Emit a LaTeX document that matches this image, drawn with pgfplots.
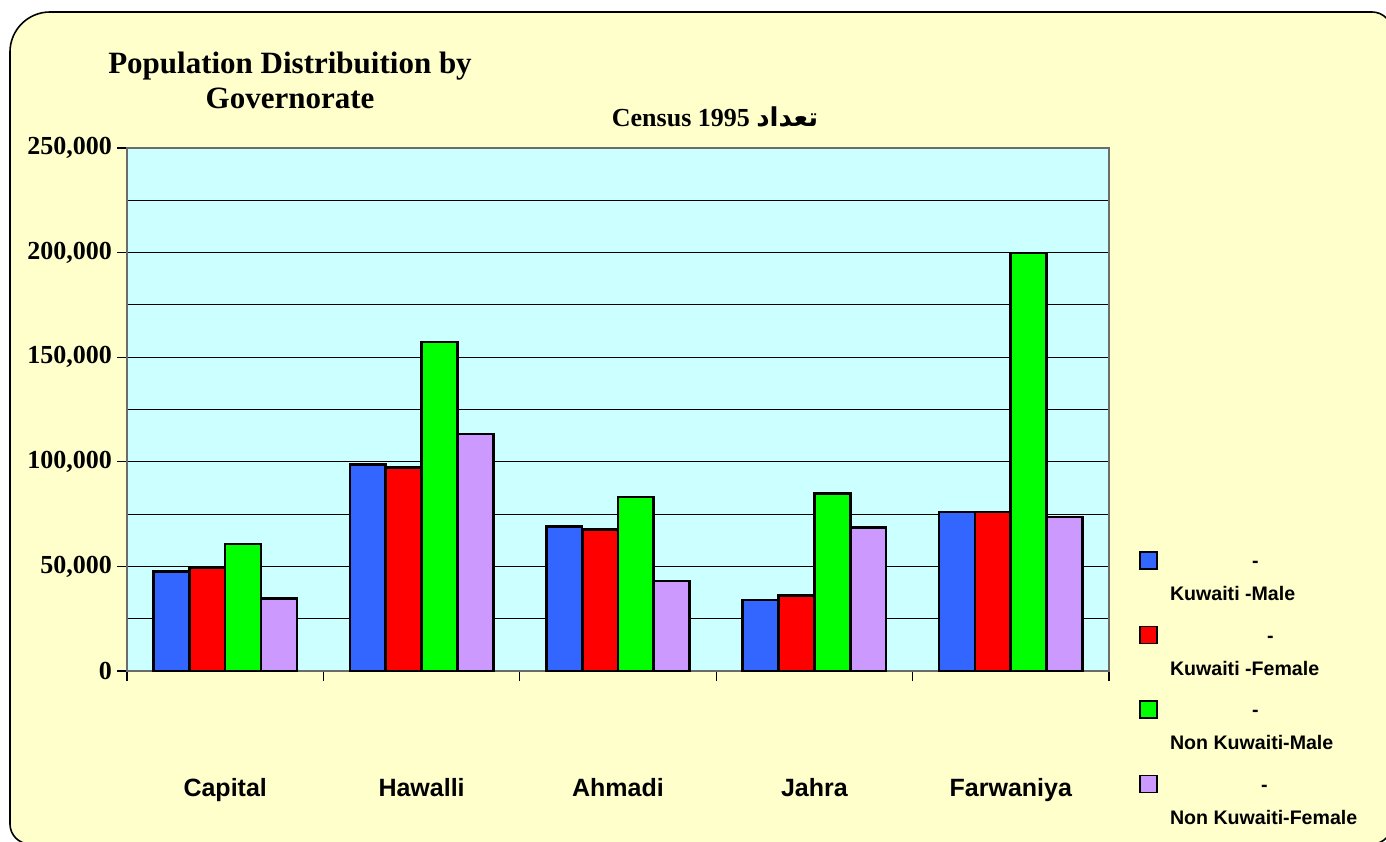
\documentclass[border=0pt]{standalone}
\usepackage{fontspec}
\setmainfont{Liberation Serif}
\newfontfamily\arial{Liberation Sans}
\newfontfamily\arabicfont[Script=Arabic]{DejaVu Sans}
\usepackage{pgfplots}
\pgfplotsset{compat=1.18}
\TeXXeTstate=1

\definecolor{kmale}{HTML}{3366FF}
\definecolor{kfemale}{HTML}{FF0000}
\definecolor{nmale}{HTML}{00FF00}
\definecolor{nfemale}{HTML}{CC99FF}
\definecolor{plotbg}{HTML}{CCFFFF}
\definecolor{framebg}{HTML}{FFFFCC}

% two-line legend text: a lone dash, then the name
\newcommand{\entry}[2]{\vbox{\baselineskip=16.5pt\hbox{\hspace*{#1}-}\hbox{#2}}}

\begin{document}
\begin{tikzpicture}
\useasboundingbox (0,0) rectangle (693pt,420.5pt);
\fill[white] (0,0) rectangle (693pt,420.5pt);
\draw[fill=framebg, line width=0.8pt] (100pt,-1.5pt) [rounded corners=10pt] -- (5pt,-1.5pt)
  [rounded corners=20pt] -- (5pt,414.5pt) [rounded corners=10pt] -- (696pt,414.5pt)
  -- (696pt,-1.5pt) -- cycle;

\node[align=center, font=\bfseries\fontsize{15.5}{17.5}\selectfont] at (145pt,380.5pt)
  {Population Distribuition by\\Governorate};
\node[font=\bfseries\fontsize{13}{15}\selectfont] at (357.5pt,362pt)
  {Census 1995 {\arabicfont\beginR تعداد\endR}};

\begin{axis}[
  at={(63.5pt,85pt)}, anchor=south west,
  scale only axis, width=491pt, height=261.5pt,
  xmin=-0.5, xmax=4.5, ymin=0, ymax=250000,
  axis background/.style={fill=plotbg},
  axis line style={draw=gray!85!black, line width=1pt},
  ytick={0,50000,...,250000},
  minor ytick={25000,75000,...,225000},
  ymajorgrids, yminorgrids,
  major grid style={black, line width=0.5pt},
  minor grid style={black, line width=0.5pt},
  tick align=outside, tick pos=left,
  tick style={black, line width=0.6pt},
  major tick length=5pt, minor tick length=0pt,
  xtick={-0.5,0.5,...,4.5}, xticklabels={,,,,,},
  extra x ticks={0,1,2,3,4},
  extra x tick labels={Capital,Hawalli,Ahmadi,Jahra,Farwaniya},
  extra x tick style={major tick length=0pt,
    xticklabel style={yshift=-50pt, font=\arial\bfseries\fontsize{12.5}{14}\selectfont}},
  scaled y ticks=false,
  yticklabel style={/pgf/number format/.cd, fixed, 1000 sep={,}, assume math mode=true,
    /tikz/.cd, font=\bfseries\fontsize{13}{15}\selectfont, xshift=1pt},
  ybar, bar width=0.1825,
  legend image code/.code={\draw[#1, /tikz/.cd, line width=0.8pt, draw=black] (0pt,6.75pt) rectangle (8.5pt,15.25pt);},
  legend style={at={(axis description cs:1,0)}, anchor=north west, xshift=15pt, yshift=60pt,
    draw=none, fill=none, inner sep=0pt, row sep=11pt,
    font=\arial\bfseries\fontsize{9.8}{12}\selectfont,
    nodes={inner sep=0pt},
    /tikz/every odd column/.style={column sep=6pt}},
  legend cell align=left,
]
\addplot[fill=kmale, draw=black, line width=1.3pt, bar shift=-0.274]
  coordinates {(0,47500) (1,98600) (2,69000) (3,33900) (4,76000)};
\addplot[fill=kfemale, draw=black, line width=1.3pt, bar shift=-0.091]
  coordinates {(0,49400) (1,97200) (2,67700) (3,36000) (4,76000)};
\addplot[fill=nmale, draw=black, line width=1.3pt, bar shift=0.091]
  coordinates {(0,60700) (1,157300) (2,83200) (3,84900) (4,199800)};
\addplot[fill=nfemale, draw=black, line width=1.3pt, bar shift=0.274]
  coordinates {(0,34700) (1,113300) (2,43000) (3,68700) (4,73600)};
\addlegendentry{\entry{41pt}{Kuwaiti -Male}}
\addlegendentry{\entry{48.5pt}{Kuwaiti -Female}}
\addlegendentry{\entry{41pt}{Non Kuwaiti-Male}}
\addlegendentry{\entry{45.5pt}{Non Kuwaiti-Female}}
\end{axis}
\end{tikzpicture}
\end{document}
